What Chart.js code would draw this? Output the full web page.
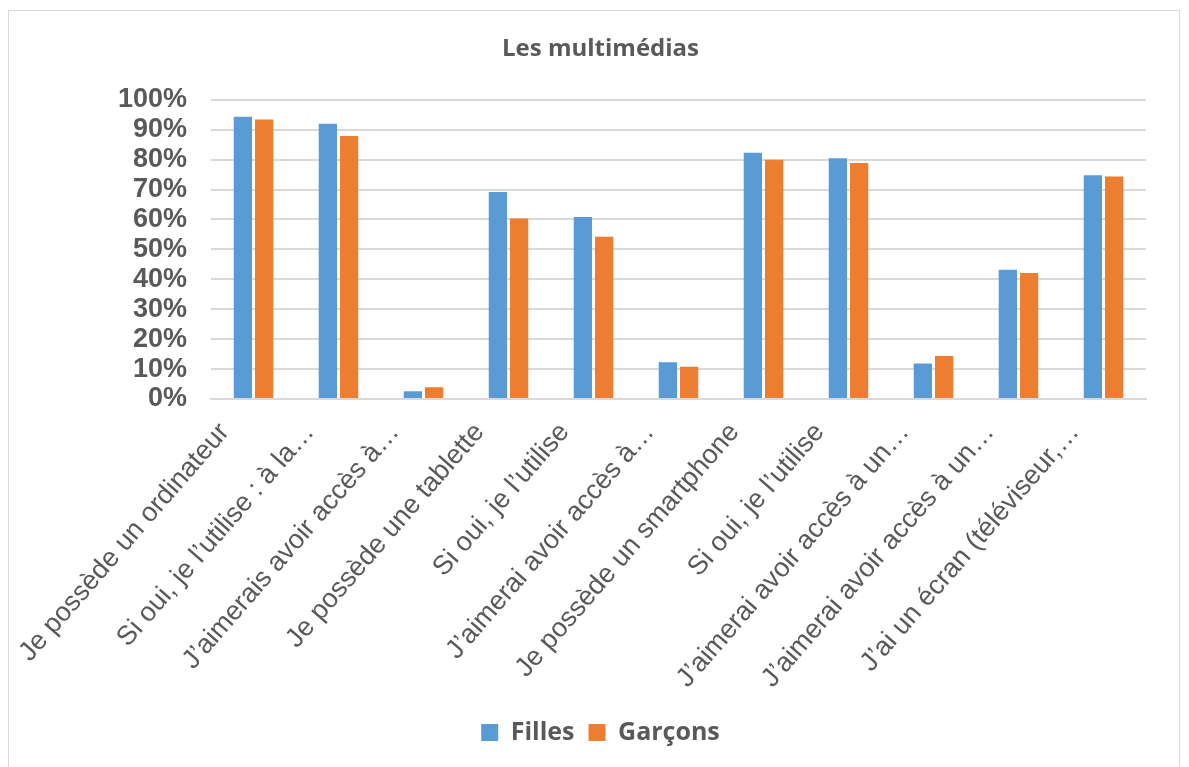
<!DOCTYPE html>
<html>
<head>
<meta charset="utf-8">
<script src="https://cdn.jsdelivr.net/npm/chart.js@4"></script>
<style>
  body { margin: 0; background: #fff; }
  #box {
    position: absolute; left: 8px; top: 10px;
    width: 1172px; height: 770px;
    border: 1px solid #d9d9d9; box-sizing: border-box;
  }
  canvas { display: block; }
</style>
</head>
<body>
<div id="box"><canvas id="graphique"></canvas></div>
<script>
const categories = [
  "Je possède un ordinateur",
  "Si oui, je l’utilise : à la…",
  "J’aimerais avoir accès à…",
  "Je possède une tablette",
  "Si oui, je l’utilise",
  "J’aimerai avoir accès à…",
  "Je possède un smartphone",
  "Si oui, je l’utilise",
  "J’aimerai avoir accès à un…",
  "J’aimerai avoir accès à un…",
  "J’ai un écran (téléviseur,…",
];
const filles = [94.3, 92.0, 2.6, 69.2, 60.8, 12.3, 82.3, 80.5, 11.9, 43.2, 74.8];
const garcons = [93.4, 87.9, 3.9, 60.3, 54.2, 10.8, 80.0, 78.9, 14.4, 42.1, 74.4];
const yTicks = [0, 10, 20, 30, 40, 50, 60, 70, 80, 90, 100];

const gris = "#595959";

const ctx = document.getElementById("graphique").getContext("2d");
new Chart(ctx, {
  type: "bar",
  data: {
    labels: categories,
    datasets: [
      {
        label: "Filles",
        data: filles,
        backgroundColor: "#5B9BD5",
        categoryPercentage: 0.5,
        barPercentage: 0.86,
      },
      {
        label: "Garçons",
        data: garcons,
        backgroundColor: "#ED7D31",
        categoryPercentage: 0.5,
        barPercentage: 0.86,
      },
    ],
  },
  options: {
    responsive: true,
    maintainAspectRatio: false,
    animation: false,
    layout: { padding: { top: 10, right: 33, bottom: 24, left: 46 } },
    plugins: {
      title: {
        display: true,
        text: "Les multimédias",
        color: gris,
        font: { family: "Open Sans", size: 24, weight: "bold" },
        padding: { top: 14, bottom: 36 },
      },
      legend: {
        position: "bottom",
        labels: {
          color: gris,
          font: { family: "Open Sans", size: 25, weight: "bold" },
          boxWidth: 17,
          boxHeight: 17,
          padding: 14,
        },
      },
      tooltip: { enabled: false },
    },
    scales: {
      x: {
        grid: { display: false, drawTicks: false },
        border: { color: "#d9d9d9", width: 2 },
        afterFit: (axis) => { axis.height = 307; },
        ticks: {
          color: gris,
          font: { family: "Liberation Sans", size: 27 },
          minRotation: 49,
          maxRotation: 49,
          autoSkip: false,
          padding: 18,
          labelOffset: -29,
        },
      },
      y: {
        min: 0,
        max: 100,
        afterBuildTicks: (axis) => {
          axis.ticks = yTicks.map((v) => ({ value: v }));
        },
        afterFit: (axis) => { axis.width = 156; },
        grid: { color: "#d9d9d9", lineWidth: 2, drawTicks: false },
        border: { display: false },
        ticks: {
          color: gris,
          font: { family: "Liberation Sans", size: 27, weight: "bold" },
          padding: 24,
          autoSkip: false,
          callback: (v) => v + "%",
        },
      },
    },
  },
});
</script>
</body>
</html>
